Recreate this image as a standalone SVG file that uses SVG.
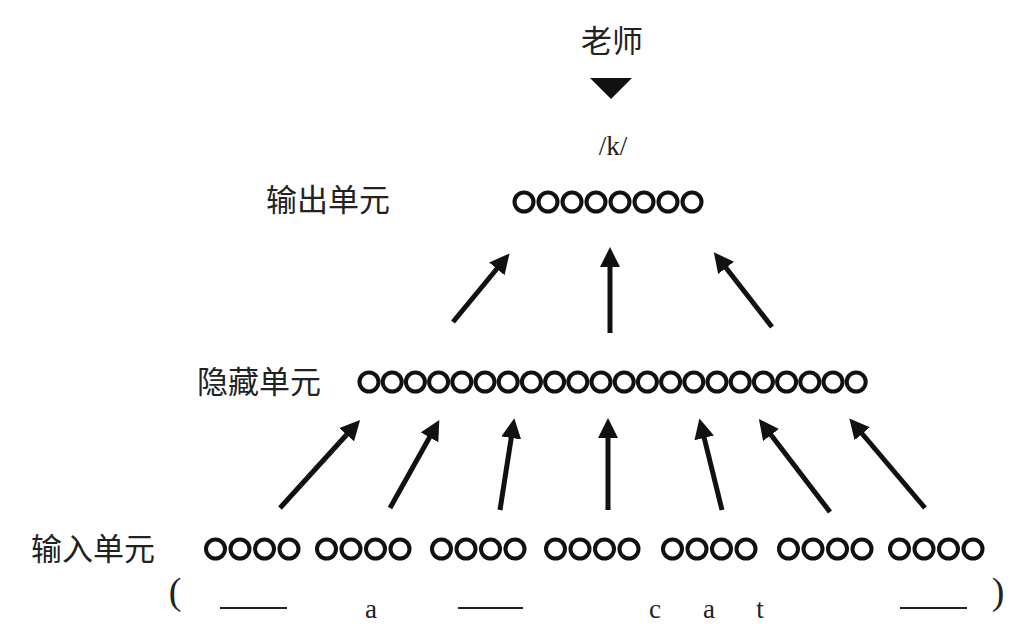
<svg xmlns="http://www.w3.org/2000/svg" width="1030" height="639" viewBox="0 0 1030 639">
<style>
.c{fill:none;stroke:#111;stroke-width:4}
.zh{font-family:"Noto Sans CJK SC",sans-serif;font-size:31px;fill:#222}
.lt{font-family:"Liberation Serif",serif;font-size:27px;fill:#222}
.p{font-size:38px}
.a{stroke:#111;stroke-width:5;marker-end:url(#m)}
</style>
<defs>
<marker id="m" markerWidth="4" markerHeight="4" refX="1" refY="2" orient="auto" markerUnits="strokeWidth"><path d="M0,0L4,2L0,4z" fill="#111"/></marker>
<circle id="o" r="9.5" class="c"/>
</defs>
<rect width="1030" height="639" fill="#fff"/>
<g id="teacher">
<text class="zh" x="612" y="52" text-anchor="middle">老师</text>
<path d="M590,78L632,78L611,99z" fill="#111"/>
<text class="lt" x="613" y="155" text-anchor="middle">/k/</text>
</g>
<g id="output">
<text class="zh" x="266" y="211">输出单元</text>
<use href="#o" x="524" y="202"/><use href="#o" x="548" y="202"/><use href="#o" x="572" y="202"/><use href="#o" x="596" y="202"/><use href="#o" x="620" y="202"/><use href="#o" x="644" y="202"/><use href="#o" x="668" y="202"/><use href="#o" x="692" y="202"/>
</g>
<g id="hidden">
<text class="zh" x="197" y="393">隐藏单元</text>
<use href="#o" x="369" y="382"/><use href="#o" x="392.2" y="382"/><use href="#o" x="415.4" y="382"/><use href="#o" x="438.6" y="382"/><use href="#o" x="461.8" y="382"/><use href="#o" x="485" y="382"/><use href="#o" x="508.2" y="382"/><use href="#o" x="531.4" y="382"/><use href="#o" x="554.6" y="382"/><use href="#o" x="577.8" y="382"/><use href="#o" x="601" y="382"/><use href="#o" x="624.2" y="382"/><use href="#o" x="647.4" y="382"/><use href="#o" x="670.6" y="382"/><use href="#o" x="693.8" y="382"/><use href="#o" x="717" y="382"/><use href="#o" x="740.2" y="382"/><use href="#o" x="763.4" y="382"/><use href="#o" x="786.6" y="382"/><use href="#o" x="809.8" y="382"/><use href="#o" x="833" y="382"/><use href="#o" x="856.2" y="382"/>
</g>
<g id="input">
<text class="zh" x="31" y="560">输入单元</text>
<g id="g1"><use href="#o" x="215.5" y="549"/><use href="#o" x="240" y="549"/><use href="#o" x="264.5" y="549"/><use href="#o" x="289" y="549"/></g>
<use href="#g1" x="111"/><use href="#g1" x="226"/><use href="#g1" x="340"/><use href="#g1" x="457"/><use href="#g1" x="573"/><use href="#g1" x="684"/>
</g>
<g id="word">
<text class="lt p" x="175" y="604" text-anchor="middle">(</text>
<text class="lt p" x="998" y="604" text-anchor="middle">)</text>
<line x1="220" y1="608" x2="287" y2="608" stroke="#222" stroke-width="2"/>
<line x1="458" y1="608" x2="523" y2="608" stroke="#222" stroke-width="2"/>
<line x1="900" y1="608" x2="967" y2="608" stroke="#222" stroke-width="2"/>
<text class="lt" x="371" y="618" text-anchor="middle">a</text>
<text class="lt" x="655" y="618" text-anchor="middle">c</text>
<text class="lt" x="709" y="618" text-anchor="middle">a</text>
<text class="lt" x="760" y="618" text-anchor="middle">t</text>
</g>
<g id="connectors">
<line class="a" x1="453" y1="322" x2="500" y2="265"/>
<line class="a" x1="610" y1="333" x2="610" y2="262"/>
<line class="a" x1="772" y1="327" x2="723" y2="264"/>
<line class="a" x1="280" y1="508" x2="350" y2="431"/>
<line class="a" x1="390" y1="508" x2="432" y2="433"/>
<line class="a" x1="500" y1="510" x2="512" y2="433"/>
<line class="a" x1="608" y1="510" x2="608" y2="433"/>
<line class="a" x1="722" y1="510" x2="703" y2="433"/>
<line class="a" x1="830" y1="512" x2="768" y2="431"/>
<line class="a" x1="925" y1="508" x2="859" y2="430"/>
</g>
</svg>
